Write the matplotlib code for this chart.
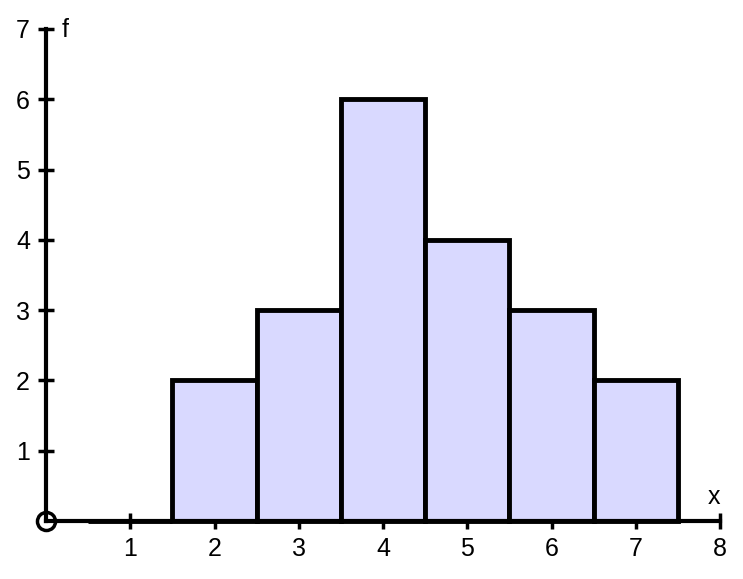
import matplotlib.pyplot as plt

plt.rcParams['font.family'] = ['Liberation Sans', 'DejaVu Sans']

x_vals = [1, 2, 3, 4, 5, 6, 7]
freqs = [0, 2, 3, 6, 4, 3, 2]
x_ticks = [1, 2, 3, 4, 5, 6, 7, 8]
y_ticks = [1, 2, 3, 4, 5, 6, 7]

W, H = 743, 579
fig = plt.figure(figsize=(W / 100, H / 100), dpi=100)
x0, y0, x1, y1 = 46, 521, 720, 29
ax = fig.add_axes([x0 / W, (H - y0) / H, (x1 - x0) / W, (y0 - y1) / H])

ax.bar(x_vals, freqs, width=1.0, color='#d9d9ff', edgecolor='black',
       linewidth=3.5, zorder=3, clip_on=False)

ax.set_xlim(0, 8)
ax.set_ylim(0, 7)
for s in ['top', 'right']:
    ax.spines[s].set_visible(False)
for s in ['left', 'bottom']:
    ax.spines[s].set_linewidth(3)
    ax.spines[s].set_zorder(4)

ax.set_xticks(x_ticks)
ax.set_yticks(y_ticks)
ax.tick_params(direction='inout', length=11, width=2.5, labelsize=18)
ax.tick_params(axis='x', pad=6)
ax.tick_params(axis='y', pad=6)
for t in ax.get_xticklines() + ax.get_yticklines():
    t.set_clip_on(False)

# open circle at origin
ax.plot([0], [0], marker='o', markersize=13, markerfacecolor='none',
        markeredgecolor='black', markeredgewidth=2.5, clip_on=False, zorder=5)

fig.text(65 / W, 1 - 30 / H, 'f', fontsize=18, ha='center', va='center')
fig.text(714 / W, 1 - 497 / H, 'x', fontsize=18, ha='center', va='center')

fig.savefig('out.png', dpi=100)
